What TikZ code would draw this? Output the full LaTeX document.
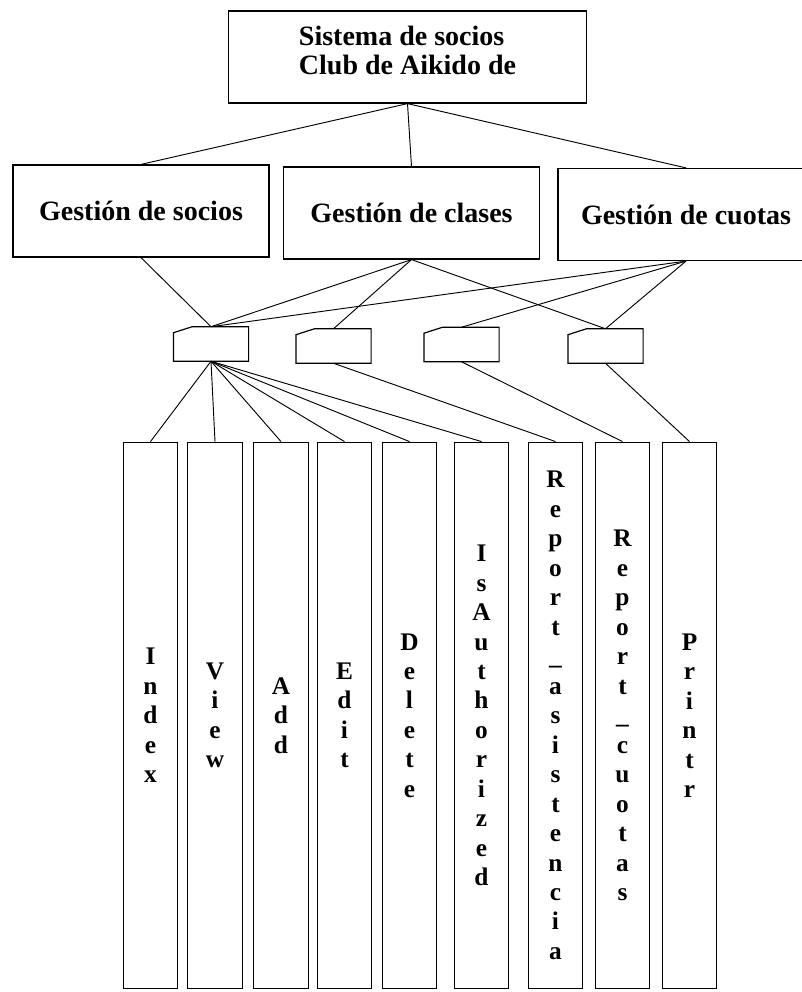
\documentclass[tikz,border=0pt]{standalone}
\usepackage{fontspec}
\setmainfont{Liberation Serif}
\begin{document}
\begin{tikzpicture}[x=0.75pt,y=-0.75pt,
  sistema/.style={draw,line width=0.9pt,minimum width=269pt,minimum height=69pt,align=left,text depth=10pt,font=\fontsize{21}{21.75}\selectfont\bfseries},
  modulo/.style={draw,line width=0.9pt,minimum width=192pt,minimum height=69pt,font=\fontsize{21}{24}\selectfont\bfseries},
  accion/.style={minimum width=56pt,minimum height=25.5pt},
  vista/.style={draw,line width=0.9pt,minimum width=41pt,minimum height=410pt,align=center,font=\fontsize{19}{22.1}\selectfont\bfseries},
  enlace/.style={line width=0.7pt}]
\useasboundingbox (0,0) rectangle (802,992);

\node[sistema] (top) at (407.5,57) {Sistema de socios\\Club de Aikido de};

\node[modulo] (soc) at (141,211) {Gestión de socios};
\node[modulo] (cla) at (411.5,213) {Gestión de clases};
\node[modulo] (cuo) at (686,214.5) {Gestión de cuotas};

\node[accion] (m1) at (211,344) {};
\node[accion] (m2) at (333.5,346) {};
\node[accion] (m3) at (461.5,344.5) {};
\node[accion] (m4) at (605.5,346) {};

\node[vista] (index) at (150.5,715.5) {I\\n\\d\\e\\x};
\node[vista] (view) at (215,715.5) {V\\i\\e\\w};
\node[vista] (add) at (281,715.5) {A\\d\\d};
\node[vista] (edit) at (344.5,715.5) {E\\d\\i\\t};
\node[vista] (delete) at (409.5,715.5) {D\\e\\l\\e\\t\\e};
\node[vista] (isauth) at (481.5,715.5) {I\\s\\A\\u\\t\\h\\o\\r\\i\\z\\e\\d};
\node[vista] (repasis) at (555.5,715.5) {R\\e\\p\\o\\r\\t\\\_\\a\\s\\i\\s\\t\\e\\n\\c\\i\\a};
\node[vista] (repcuo) at (622.5,715.5) {R\\e\\p\\o\\r\\t\\\_\\c\\u\\o\\t\\a\\s};
\node[vista] (printr) at (689.5,715.5) {P\\r\\i\\n\\t\\r};

% cajas con esquina recortada
\foreach \m in {m1,m2,m3,m4}
  \draw[line width=0.9pt] ([yshift=-4.5pt]\m.north west) -- ([xshift=14pt]\m.north west)
    -- (\m.north east) -- (\m.south east) -- (\m.south west) -- cycle;

\path[draw,enlace] (top.south) -- (soc.north);
\path[draw,enlace] (top.south) -- (cla.north);
\path[draw,enlace] (top.south) -- (cuo.north);

\path[draw,enlace] (soc.south) -- (m1.north);
\path[draw,enlace] (cla.south) -- (m1.north);
\path[draw,enlace] (cla.south) -- (m2.north);
\path[draw,enlace] (cla.south) -- (m4.north);
\path[draw,enlace] (cuo.south) -- (m1.north);
\path[draw,enlace] (cuo.south) -- (m3.north);
\path[draw,enlace] (cuo.south) -- (m4.north);

\foreach \v in {index,view,add,edit,delete,isauth}
  \path[draw,enlace] (m1.south) -- (\v.north);
\path[draw,enlace] (m2.south) -- (repasis.north);
\path[draw,enlace] (m3.south) -- (repcuo.north);
\path[draw,enlace] (m4.south) -- (printr.north);
\end{tikzpicture}
\end{document}
